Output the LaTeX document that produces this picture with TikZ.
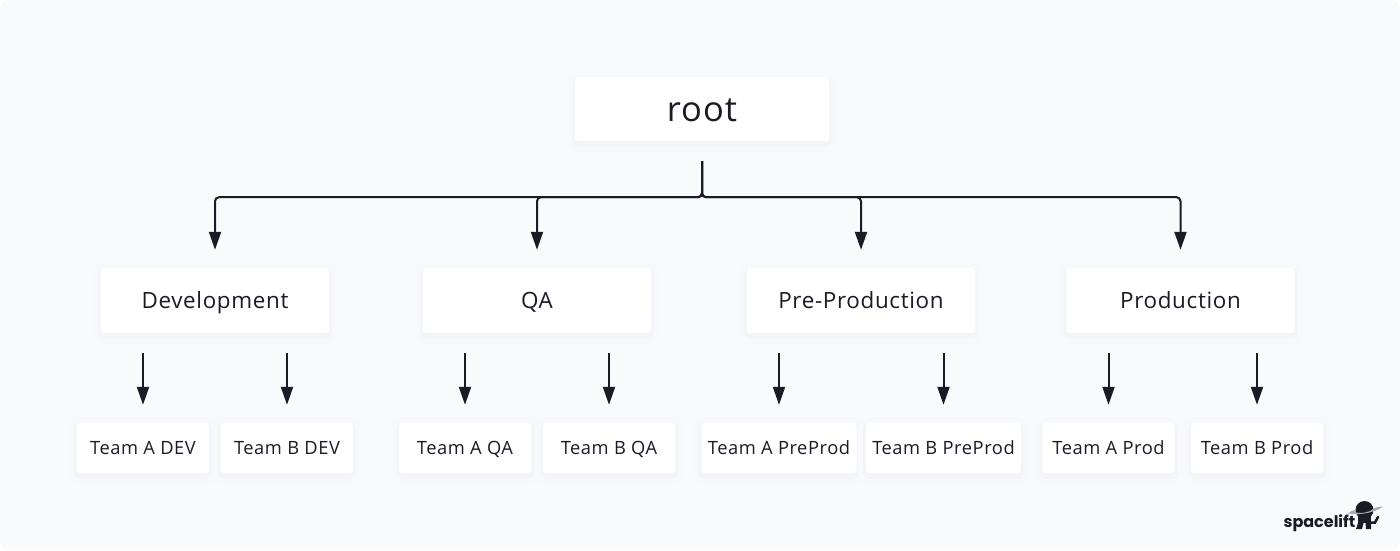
\documentclass[tikz,border=0pt]{standalone}
\usepackage{fontspec}
\setmainfont[LetterSpace=3]{Open Sans}
\newfontfamily\logofont{Poppins}
\usetikzlibrary{arrows.meta}
\definecolor{pagecolor}{HTML}{F9FAFC}
\definecolor{haloa}{HTML}{F8F9FC}
\definecolor{halob}{HTML}{F4F5F9}
\definecolor{inkcolor}{HTML}{1A1B25}
\definecolor{ringcolor}{HTML}{A9ABB3}
\begin{document}
\begin{tikzpicture}[x=1pt,y=-1pt]
        \tikzstyle{card}=[fill=white, rounded corners=3pt, inner sep=0pt, text=inkcolor,
          preaction={draw=haloa, line width=16pt, transform canvas={yshift=-3pt}},
          preaction={draw=halob, line width=6pt, transform canvas={yshift=-3pt}}]
        \tikzstyle{rootbox}=[card, minimum width=254pt, minimum height=64pt, text height=25pt, text depth=0pt, font=\fontsize{34.5}{38}\selectfont]
        \tikzstyle{envbox}=[card, minimum width=228pt, minimum height=65pt, text height=20pt, text depth=5pt, font=\fontsize{22.4}{26}\selectfont]
        \tikzstyle{teambox}=[card, minimum width=132pt, minimum height=50pt, text height=17pt, text depth=4pt, font=\fontsize{18.3}{22}\selectfont]
        \tikzstyle{widebox}=[teambox, minimum width=155pt]
        \tikzstyle{link}=[draw=inkcolor, line width=2pt, rounded corners=4pt, -{Triangle[length=18pt,width=12pt]}]

        \path[use as bounding box] (0,0) rectangle (1400,550);
        \fill[pagecolor] (0,0) [rounded corners=9pt] rectangle (1400,550);

        \node (root) at (702,109)[rootbox]{root};

        \node (dev) at (215,300.5)[envbox]{Development};
        \node (qa) at (537,300.5)[envbox]{QA};
        \node (pre) at (861,300.5)[envbox]{Pre-Production};
        \node (prod) at (1180.5,300.5)[envbox]{Production};

        \node (devA) at (143,448)[teambox]{Team A DEV};
        \node (devB) at (287,448)[teambox]{Team B DEV};
        \node (qaA) at (465,448)[teambox]{Team A QA};
        \node (qaB) at (609,448)[teambox]{Team B QA};
        \node (preA) at (779,448)[widebox]{Team A PreProd};
        \node (preB) at (943.5,448)[widebox]{Team B PreProd};
        \node (prodA) at (1108.5,448)[teambox]{Team A Prod};
        \node (prodB) at (1257,448)[teambox]{Team B Prod};

        % root to the four environments
        \foreach \env in {dev,qa,pre,prod}{
          \draw[link, shorten <=20pt, shorten >=18pt] (root.south) -- ++(0,56) -| (\env.north);
        }

        % environments to teams
        \foreach \env/\team in {dev/devA,dev/devB,qa/qaA,qa/qaB,pre/preA,pre/preB,prod/prodA,prod/prodB}{
          \draw[link, shorten <=20pt, shorten >=18pt] (\env.south -| \team.north) -- (\team.north);
        }

        % logo
        \node (logo) at (1319.5,523)[text=inkcolor, inner sep=0pt, font=\logofont\fontsize{16}{18}\selectfont\bfseries]{spacelift};
        \fill[inkcolor] (1364.5,510) circle (9pt);
        \fill[inkcolor] (1358,515) rectangle (1371,523);
        \fill[inkcolor] (1358,523) -- (1363.5,523) -- (1362,529) -- (1356,529) -- cycle;
        \fill[inkcolor] (1365.5,523) -- (1371,523) -- (1371,529) -- (1366,529) -- cycle;
        \draw[inkcolor, line width=2.5pt, line cap=round] (1371,522.5) -- (1375,522.5) -- (1378,517);
        \fill[ringcolor] (1348,513.5) .. controls (1351,511) .. (1355.5,510) -- (1356,512.5) .. controls (1362,514) and (1370,512) .. (1373,509) .. controls (1377,507) .. (1383,506.5) .. controls (1378,511) and (1362,516) .. cycle;
      \end{tikzpicture}
\end{document}
